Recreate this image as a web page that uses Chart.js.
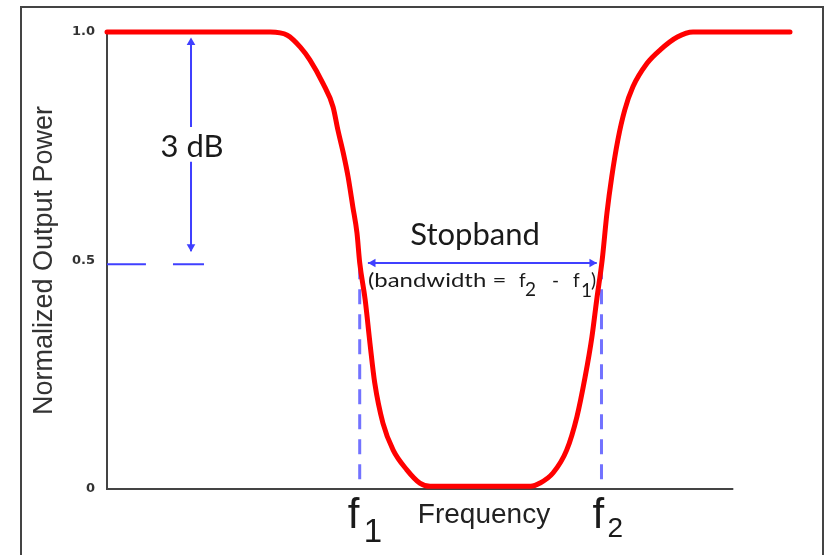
<!DOCTYPE html>
<html><head><meta charset="utf-8">
<script src="https://cdn.jsdelivr.net/npm/chart.js@4"></script>
<style>html,body{margin:0;padding:0;background:#fff}</style>
</head><body>
<canvas id="c" width="827" height="555"></canvas>
<script>
// ---- data ----
const frequency = [0, 23.9, 26.4, 28.3, 29.7, 31.6, 33.1, 33.8, 34.6, 35.3, 36.0, 36.6, 37.0, 37.8, 38.5, 39.2, 40.4, 41.9, 43.9, 45.8, 47.3,
                   62.0, 63.4, 65.3, 67.3, 68.8, 70.0, 71.0, 71.7, 72.5, 73.2, 73.9, 74.8, 75.8, 77.0, 79.1, 81.0, 83.5, 85.8, 100];
const power = [1.0, 1.0, 0.993, 0.967, 0.939, 0.888, 0.836, 0.786, 0.735, 0.683, 0.617, 0.560, 0.495, 0.414, 0.319, 0.232, 0.144, 0.085, 0.042, 0.013, 0.006,
               0.006, 0.013, 0.035, 0.085, 0.158, 0.245, 0.333, 0.414, 0.501, 0.604, 0.683, 0.764, 0.829, 0.880, 0.932, 0.961, 0.989, 1.0, 1.0];
const yTicks = [0, 0.5, 1.0];
const yTickLabels = ['0', '0.5', '1.0'];
const f1 = 37.0;
const f2 = 72.4;
const halfPower = 0.492;
const axisEnd = 91.7;
const dBArrowX = 12.3;

const curve = frequency.map((f, i) => ({x: f, y: power[i]}));
const BLUE = '#4040ff';
const DASHBLUE = '#7272ff';

const framePlugin = {
  id: 'frame',
  beforeDraw(chart) {
    const ctx = chart.ctx;
    ctx.save();
    ctx.fillStyle = '#fff';
    ctx.fillRect(0, 0, chart.width, chart.height);
    ctx.strokeStyle = '#444';
    ctx.lineWidth = 2;
    ctx.beginPath();
    ctx.moveTo(21, 560); ctx.lineTo(21, 7); ctx.lineTo(823, 7); ctx.lineTo(823, 560);
    ctx.stroke();
    ctx.restore();
  }
};

const textPlugin = {
  id: 'texts',
  afterDatasetsDraw(chart) {
    const ctx = chart.ctx, xs = chart.scales.x, ys = chart.scales.y;
    const px = v => xs.getPixelForValue(v), py = v => ys.getPixelForValue(v);
    const put = (t, x, y, font, align, color, sx) => {
      ctx.save();
      ctx.font = font; ctx.textAlign = align || 'left'; ctx.textBaseline = 'alphabetic';
      ctx.fillStyle = color || '#1a1a1a';
      ctx.translate(x, y);
      if (sx) ctx.scale(sx, 1);
      ctx.fillText(t, 0, 0);
      ctx.restore();
    };
    const GILL = "Lato, 'Open Sans', sans-serif";
    const HELV = "'Liberation Sans', Arial, sans-serif";
    put('3 dB', px(12.45), py(0.7265), '31px ' + GILL, 'center');
    put('Stopband', px(53.9), py(0.534), '31px ' + GILL, 'center');
    // (bandwidth = f2 - f1)
    const by = py(0.442);
    const bx = px(38.2);
    put('(bandwidth =', bx, by, '19px ' + GILL, 'left', null, 1.26);
    put('f', bx + 151, by, '19px ' + GILL);
    put('2', bx + 157, by + 9, '19px ' + GILL);
    put('-', bx + 184, by, '19px ' + GILL);
    put('f', bx + 205, by, '19px ' + GILL);
    put('1', bx + 213, by + 10, '19px ' + GILL);
    put(')', bx + 223, by, '19px ' + GILL);
    // f1, f2, Frequency
    put('f', px(f1) - 12, py(-0.085), '42px ' + HELV);
    put('1', px(f1) + 4, py(-0.116), '33px ' + HELV);
    put('f', px(f2) - 9, py(-0.085), '42px ' + HELV);
    put('2', px(f2) + 6, py(-0.105), '28px ' + HELV);
    put('Frequency', px(55.2), py(-0.074), '28px ' + HELV, 'center', '#222');
  }
};

new Chart(document.getElementById('c'), {
  type: 'line',
  data: {
    datasets: [
      { label: 'response', data: curve, borderColor: '#ff0000', borderWidth: 5, pointRadius: 0,
        cubicInterpolationMode: 'monotone', borderCapStyle: 'round', borderJoinStyle: 'round', clip: false, order: 0 },
      { label: 'xaxis', data: [{x: 0, y: 0}, {x: axisEnd, y: 0}], borderColor: '#444', borderWidth: 2,
        pointRadius: 0, clip: false, order: 6 },
      { label: '3dB arrow', data: [{x: dBArrowX, y: 0.982}, {x: dBArrowX, y: 0.792}, {x: dBArrowX, y: null},
                                   {x: dBArrowX, y: 0.716}, {x: dBArrowX, y: 0.52}],
        borderColor: BLUE, borderWidth: 2, pointRadius: 0, spanGaps: false, clip: false, order: 3 },
      { label: '3dB heads', data: [{x: dBArrowX, y: 0.977}, {x: dBArrowX, y: 0.53}], showLine: false,
        pointStyle: 'triangle', pointRotation: [0, 180], pointRadius: 5, pointBorderWidth: 0,
        pointBackgroundColor: BLUE, clip: false, order: 3 },
      { label: 'half power', data: [{x: 0, y: halfPower}, {x: 5.7, y: halfPower}, {x: 7.8, y: null},
                                    {x: 9.66, y: halfPower}, {x: 14.2, y: halfPower}],
        borderColor: BLUE, borderWidth: 2, pointRadius: 0, spanGaps: false, clip: false, order: 3 },
      { label: 'f lines', data: [{x: f1, y: halfPower}, {x: f1, y: 0.015}, {x: (f1 + f2) / 2, y: null},
                                 {x: f2, y: halfPower}, {x: f2, y: 0.015}],
        borderColor: DASHBLUE, borderWidth: 3, borderDash: [15, 10], pointRadius: 0, spanGaps: false,
        clip: false, order: 4 },
      { label: 'stopband arrow', data: [{x: 38.2, y: 0.4945}, {x: 71.7, y: 0.4945}],
        borderColor: BLUE, borderWidth: 2, pointRadius: 0, clip: false, order: 2 },
      { label: 'stopband heads', data: [{x: 38.95, y: 0.4945}, {x: 71.0, y: 0.4945}], showLine: false,
        pointStyle: 'triangle', pointRotation: [270, 90], pointRadius: 5, pointBorderWidth: 0,
        pointBackgroundColor: BLUE, clip: false, order: 2 }
    ]
  },
  options: {
    responsive: false,
    animation: false,
    devicePixelRatio: 1,
    layout: { padding: { left: 0, right: 37, top: 32, bottom: 66 } },
    plugins: { legend: { display: false }, tooltip: { enabled: false } },
    scales: {
      x: { type: 'linear', min: 0, max: 100, display: false },
      y: {
        type: 'linear', min: 0, max: 1,
        afterFit(s) { s.width = 107; },
        afterBuildTicks(s) { s.ticks = yTicks.map(v => ({value: v})); },
        grid: { display: false, drawTicks: false },
        border: { display: true, color: '#444', width: 2 },
        ticks: {
          padding: 12, color: '#333',
          font: { family: "'DejaVu Sans'", size: 13, weight: 'bold' },
          callback: (v) => yTickLabels[yTicks.indexOf(v)]
        },
        title: {
          display: true, text: 'Normalized Output Power', color: '#333',
          font: { family: "'Liberation Sans', Arial, sans-serif", size: 27 },
          padding: { top: 28, bottom: 0 }
        }
      }
    }
  },
  plugins: [framePlugin, textPlugin]
});
</script>
</body></html>
